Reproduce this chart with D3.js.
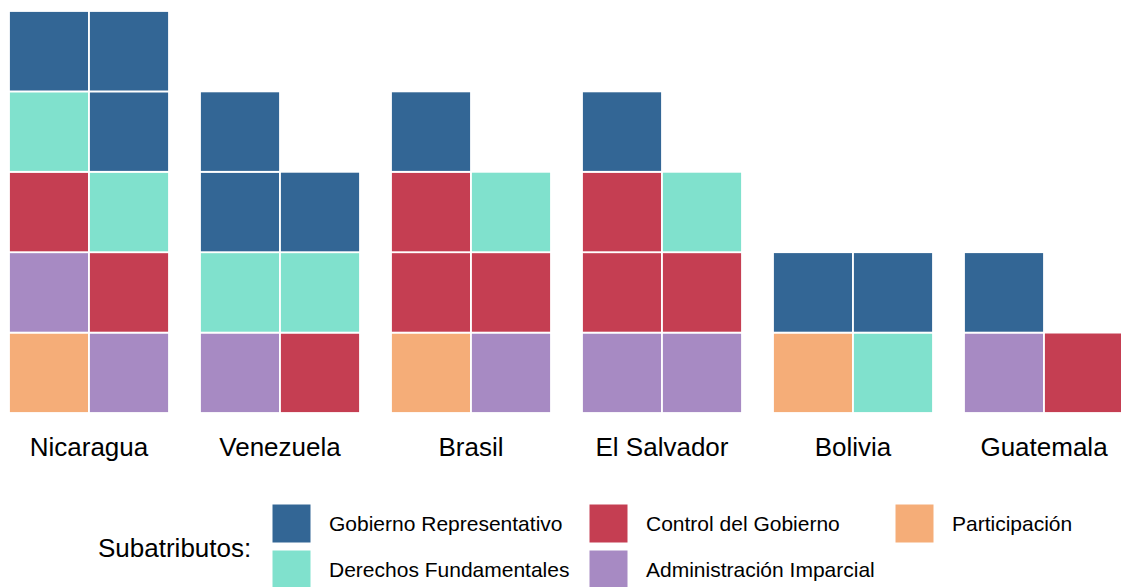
<!DOCTYPE html>
<html><head><meta charset="utf-8">
<script src="https://cdn.jsdelivr.net/npm/d3@7"></script>
<style>body{margin:0;background:#fff}svg{display:block;font-family:"Liberation Sans",Arial,sans-serif}</style>
</head><body><svg id="c" width="1121" height="587"></svg>
<script>
const countries = ["Nicaragua","Venezuela","Brasil","El Salvador","Bolivia","Guatemala"];
// fill order (bottom-left first)
const categories = ["Participación","Administración Imparcial","Control del Gobierno","Derechos Fundamentales","Gobierno Representativo"];
const participacion   = [1,0,1,0,1,0];
const administracion  = [2,1,1,2,0,1];
const control         = [2,1,3,3,0,1];
const derechos        = [2,2,1,1,1,0];
const gobierno        = [3,3,1,1,2,1];
const seriesValues = [participacion, administracion, control, derechos, gobierno];
const colors = {
  "Gobierno Representativo":"#336695",
  "Control del Gobierno":"#C53E52",
  "Participación":"#F5AD78",
  "Derechos Fundamentales":"#80E1CD",
  "Administración Imparcial":"#A78AC3"
};
const legendRows = [["Gobierno Representativo","Control del Gobierno","Participación"],
                    ["Derechos Fundamentales","Administración Imparcial"]];

const svg = d3.select("#c");
const nCols = 2, nRows = 5;
const x = d3.scaleBand().domain(countries).range([9, 9 + 191*6 - 31]).paddingInner(31/191).paddingOuter(0);
const panelW = x.bandwidth();
const cx = d3.scaleLinear().domain([0, nCols]).range([0, panelW]);
const y = d3.scaleLinear().domain([0, nRows]).range([413, 11]);

const cells = [];
countries.forEach((c, ci) => {
  let k = 0;
  categories.forEach((cat, si) => {
    for (let j = 0; j < seriesValues[si][ci]; j++, k++) {
      cells.push({country: c, cat, col: k % nCols, row: Math.floor(k / nCols)});
    }
  });
});

svg.append("g").selectAll("rect").data(cells).join("rect")
  .attr("x", d => x(d.country) + cx(d.col))
  .attr("y", d => y(d.row + 1))
  .attr("width", cx(1) - cx(0))
  .attr("height", y(0) - y(1))
  .attr("fill", d => colors[d.cat])
  .attr("stroke", "#fff").attr("stroke-width", 1.8);

svg.append("g").selectAll("text").data(countries).join("text")
  .attr("x", d => x(d) + panelW/2).attr("y", 456)
  .attr("text-anchor", "middle").attr("font-size", 26).attr("fill", "#000")
  .text(d => d);

// legend
const lg = svg.append("g");
lg.append("text").attr("x", 98).attr("y", 556.5).attr("font-size", 26).attr("fill", "#000").text("Subatributos:");
const keyX = [272, 589, 895];
const keyY = [504, 550];
legendRows.forEach((row, r) => {
  row.forEach((cat, c) => {
    lg.append("rect").attr("x", keyX[c]).attr("y", keyY[r]).attr("width", 39).attr("height", 39)
      .attr("fill", colors[cat]).attr("stroke", "#fff").attr("stroke-width", 1);
    lg.append("text").attr("x", keyX[c] + 57).attr("y", keyY[r] + 19.5).attr("dy", "0.35em")
      .attr("font-size", 21).attr("fill", "#000").text(cat);
  });
});
</script></body></html>
